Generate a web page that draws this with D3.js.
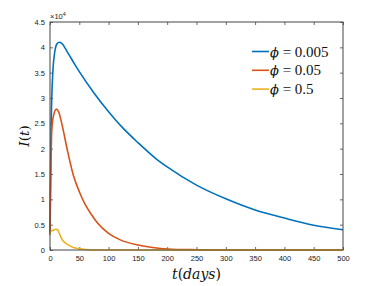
<!DOCTYPE html>
<html>
<head>
<meta charset="utf-8">
<script src="https://cdn.jsdelivr.net/npm/d3@7"></script>
<style>
  body { margin: 0; background: #fff; }
  svg { display: block; }
</style>
</head>
<body>
<div id="chart"></div>
<script>
// values in units of 10^4
var tBlue = [0, 1, 2, 3, 5, 8, 12, 16, 20, 30, 43, 50, 75, 100, 125, 150, 180, 200, 250, 300, 350, 400, 450, 500];
var iBlue = [0.3, 1.6, 2.5, 3.0, 3.55, 3.9, 4.07, 4.1, 4.08, 3.9, 3.65, 3.52, 3.1, 2.73, 2.4, 2.12, 1.81, 1.64, 1.28, 1.01, 0.79, 0.63, 0.49, 0.4];

var tRed = [0, 1, 3, 6, 11, 15, 20, 30, 40, 50, 60, 70, 80, 100, 120, 150, 175, 200, 250, 300, 400, 500];
var iRed = [0.3, 1.2, 2.35, 2.65, 2.78, 2.72, 2.5, 1.95, 1.47, 1.15, 0.9, 0.71, 0.55, 0.33, 0.2, 0.1, 0.05, 0.02, 0.005, 0, 0, 0];

var tYellow = [0, 1, 3, 6, 10, 13, 17, 20, 25, 31, 40, 48, 60, 80, 100, 200, 300, 400, 500];
var iYellow = [0.3, 0.36, 0.38, 0.39, 0.41, 0.4, 0.3, 0.22, 0.15, 0.1, 0.05, 0.03, 0.01, 0, 0, 0, 0, 0, 0];

var phiValues = ["0.005", "0.05", "0.5"];
var seriesColors = ["#0072bd", "#d95319", "#edb120"];

var xTicks = d3.range(0, 501, 50);
var yTicks = d3.range(0, 4.51, 0.5);

var _width = 391, _height = 286;
var _margins = { top: 22, right: 48, bottom: 36, left: 50 };

var svg = d3.select("#chart").append("svg")
  .attr("width", _width)
  .attr("height", _height);

var x = d3.scaleLinear().domain([0, 500]).range([_margins.left, _width - _margins.right]);
var y = d3.scaleLinear().domain([0, 4.5]).range([_height - _margins.bottom, _margins.top]);

var axisColor = "#444";

// axes with inward ticks on all four sides
function styleAxis(g) {
  g.select(".domain").remove();
  g.selectAll(".tick line").attr("stroke", axisColor).attr("stroke-width", 0.8);
  g.selectAll(".tick text").attr("fill", "#222")
    .style("font-family", "'Liberation Sans', Arial, sans-serif").style("font-size", "7.5px");
}

svg.append("g")
  .attr("transform", "translate(0," + y(0) + ")")
  .call(d3.axisBottom(x).tickValues(xTicks).tickSize(-3).tickPadding(6).tickFormat(d3.format("d")))
  .call(styleAxis);

svg.append("g")
  .attr("transform", "translate(0," + y(4.5) + ")")
  .call(d3.axisTop(x).tickValues(xTicks).tickSize(-3).tickFormat(""))
  .call(styleAxis);

svg.append("g")
  .attr("transform", "translate(" + x(0) + ",0)")
  .call(d3.axisLeft(y).tickValues(yTicks).tickSize(-3).tickPadding(5).tickFormat(function(d) { return d3.format("")(+d.toFixed(1)); }))
  .call(styleAxis);

svg.append("g")
  .attr("transform", "translate(" + x(500) + ",0)")
  .call(d3.axisRight(y).tickValues(yTicks).tickSize(-3).tickFormat(""))
  .call(styleAxis);

var line = d3.line()
  .x(function(d) { return x(d[0]); })
  .y(function(d) { return y(d[1]); })
  .curve(d3.curveMonotoneX);

var series = [d3.zip(tBlue, iBlue), d3.zip(tRed, iRed), d3.zip(tYellow, iYellow)];

svg.append("g").selectAll("path")
  .data(series)
  .enter().append("path")
  .attr("d", line)
  .attr("fill", "none")
  .attr("stroke", function(d, i) { return seriesColors[i]; })
  .attr("stroke-width", 1.6);

// box
svg.append("rect")
  .attr("x", x(0)).attr("y", y(4.5))
  .attr("width", x(500) - x(0)).attr("height", y(0) - y(4.5))
  .attr("fill", "none").attr("stroke", axisColor).attr("stroke-width", 1);

// exponent label
var expText = svg.append("text")
  .attr("x", x(0)).attr("y", y(4.5) - 3)
  .attr("fill", "#222")
  .style("font-family", "'Liberation Sans', Arial, sans-serif").style("font-size", "7.5px");
expText.append("tspan").text("\u00d710");
expText.append("tspan").attr("dy", -3).style("font-size", "5.5px").text("4");

// axis labels
var serif = "'DejaVu Serif', 'Liberation Serif', serif";

var xl = svg.append("text")
  .attr("x", (x(0) + x(500)) / 2).attr("y", 279)
  .attr("text-anchor", "middle")
  .style("font-family", serif).style("font-size", "14px")
  .attr("fill", "#111");
xl.append("tspan").style("font-style", "italic").text("t");
xl.append("tspan").text("(");
xl.append("tspan").style("font-style", "italic").text("days");
xl.append("tspan").text(")");

var yl = svg.append("text")
  .attr("transform", "translate(29," + ((y(0) + y(4.5)) / 2) + ") rotate(-90)")
  .attr("text-anchor", "middle")
  .style("font-family", serif).style("font-size", "13.5px")
  .attr("fill", "#111");
yl.append("tspan").style("font-style", "italic").text("I");
yl.append("tspan").text("(");
yl.append("tspan").style("font-style", "italic").text("t");
yl.append("tspan").text(")");

// legend
var legend = svg.append("g").selectAll("g")
  .data(phiValues)
  .enter().append("g")
  .attr("transform", function(d, i) { return "translate(252," + (51.5 + i * 18.8) + ")"; });

legend.append("line")
  .attr("x1", 0).attr("x2", 17)
  .attr("stroke", function(d, i) { return seriesColors[i]; })
  .attr("stroke-width", 1.6);

var lt = legend.append("text")
  .attr("x", 18).attr("y", 5)
  .style("font-family", "'Liberation Serif', serif")
  .style("font-size", "15px")
  .attr("fill", "#111");
lt.append("tspan").style("font-family", "'DejaVu Serif', serif").style("font-style", "italic").style("font-size", "13px").text("\u03d5");
lt.append("tspan").text(function(d) { return " = " + d; });
</script>
</body>
</html>
